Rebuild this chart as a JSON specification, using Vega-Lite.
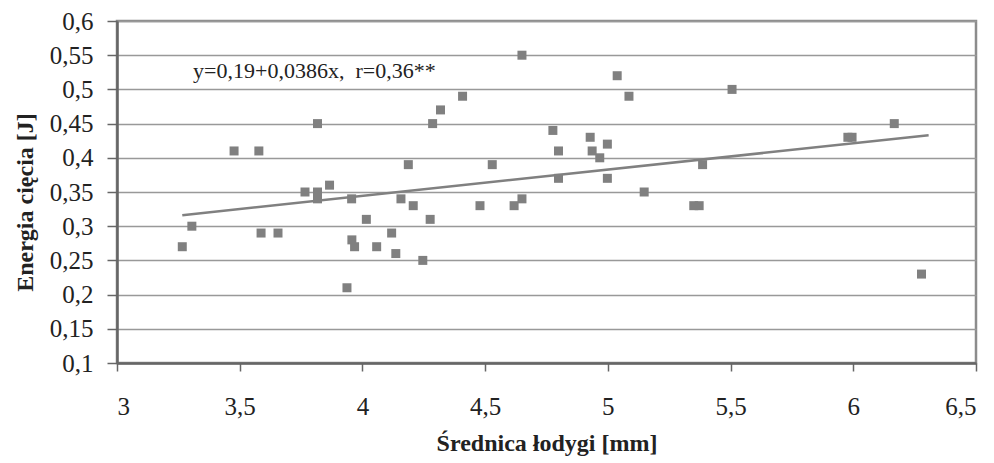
{
  "$schema": "https://vega.github.io/schema/vega-lite/v6.json",
  "autosize": {"type": "none"},
  "width": 859,
  "height": 342,
  "padding": {"left": 117, "top": 21, "right": 18, "bottom": 100},
  "background": "white",
  "config": {
    "view": {"stroke": "#8c8c8c", "strokeWidth": 2.5}
  },
  "datasets": {
    "pts": [
      {"d": 3.266, "e": 0.27}, {"d": 3.305, "e": 0.30}, {"d": 3.477, "e": 0.41}, {"d": 3.578, "e": 0.41},
      {"d": 3.587, "e": 0.29}, {"d": 3.656, "e": 0.29}, {"d": 3.766, "e": 0.35}, {"d": 3.817, "e": 0.35},
      {"d": 3.817, "e": 0.34}, {"d": 3.817, "e": 0.45}, {"d": 3.866, "e": 0.36}, {"d": 3.956, "e": 0.34},
      {"d": 3.957, "e": 0.28}, {"d": 3.968, "e": 0.27}, {"d": 3.937, "e": 0.21}, {"d": 4.016, "e": 0.31},
      {"d": 4.058, "e": 0.27}, {"d": 4.119, "e": 0.29}, {"d": 4.136, "e": 0.26}, {"d": 4.157, "e": 0.34},
      {"d": 4.187, "e": 0.39}, {"d": 4.207, "e": 0.33}, {"d": 4.246, "e": 0.25}, {"d": 4.276, "e": 0.31},
      {"d": 4.286, "e": 0.45}, {"d": 4.318, "e": 0.47}, {"d": 4.408, "e": 0.49}, {"d": 4.479, "e": 0.33},
      {"d": 4.529, "e": 0.39}, {"d": 4.618, "e": 0.33}, {"d": 4.650, "e": 0.34}, {"d": 4.650, "e": 0.55},
      {"d": 4.776, "e": 0.44}, {"d": 4.799, "e": 0.41}, {"d": 4.799, "e": 0.37}, {"d": 4.928, "e": 0.43},
      {"d": 4.936, "e": 0.41}, {"d": 4.967, "e": 0.40}, {"d": 4.998, "e": 0.42}, {"d": 4.998, "e": 0.37},
      {"d": 5.038, "e": 0.52}, {"d": 5.086, "e": 0.49}, {"d": 5.148, "e": 0.35}, {"d": 5.350, "e": 0.33},
      {"d": 5.372, "e": 0.33}, {"d": 5.386, "e": 0.39}, {"d": 5.506, "e": 0.50}, {"d": 5.978, "e": 0.43},
      {"d": 5.995, "e": 0.43}, {"d": 6.167, "e": 0.45}, {"d": 6.278, "e": 0.23}
    ],
    "fit": [{"d": 3.266, "e": 0.316}, {"d": 6.307, "e": 0.433}],
    "note": [{"d": 3.31, "e": 0.527, "t": "y=0,19+0,0386x,\u00a0\u00a0r=0,36**"}]
  },
  "encoding": {
    "x": {
      "field": "d", "type": "quantitative",
      "scale": {"domain": [3, 6.5], "nice": false, "zero": false},
      "axis": {
        "values": [3, 3.5, 4, 4.5, 5, 5.5, 6, 6.5],
        "labelExpr": "replace(format(datum.value, '.1~f'), '.', ',')",
        "grid": false,
        "labelOverlap": false,
        "labelFont": "Liberation Serif",
        "labelFontSize": 25,
        "labelColor": "#222",
        "labelPadding": 23,
        "domainColor": "#666",
        "domainWidth": 2.5,
        "tickColor": "#666",
        "tickWidth": 1.5,
        "tickSize": 8,
        "title": "Średnica łodygi [mm]",
        "titleFont": "Liberation Serif",
        "titleFontSize": 24,
        "titleFontWeight": "bold",
        "titleColor": "#222",
        "titleY": 87,
        "titleBaseline": "alphabetic"
      }
    },
    "y": {
      "field": "e", "type": "quantitative",
      "scale": {"domain": [0.1, 0.6], "nice": false, "zero": false},
      "axis": {
        "values": [0.1, 0.15, 0.2, 0.25, 0.3, 0.35, 0.4, 0.45, 0.5, 0.55, 0.6],
        "labelExpr": "replace(format(datum.value, '.2~f'), '.', ',')",
        "grid": true,
        "gridColor": "#999",
        "gridWidth": 1.5,
        "labelOverlap": false,
        "labelFont": "Liberation Serif",
        "labelFontSize": 25,
        "labelColor": "#222",
        "labelPadding": 14,
        "domainColor": "#666",
        "domainWidth": 2.5,
        "tickColor": "#666",
        "tickWidth": 1.5,
        "tickSize": 10,
        "title": "Energia cięcia [J]",
        "titleFont": "Liberation Serif",
        "titleFontSize": 24,
        "titleFontWeight": "bold",
        "titleColor": "#222",
        "titleX": -92,
        "titleY": 181,
        "titleAngle": -90,
        "titleBaseline": "middle"
      }
    }
  },
  "layer": [
    {
      "data": {"name": "pts"},
      "mark": {"type": "square", "size": 81, "color": "#808080", "opacity": 1}
    },
    {
      "data": {"name": "fit"},
      "mark": {"type": "line", "color": "#808080", "strokeWidth": 2.5}
    },
    {
      "data": {"name": "note"},
      "mark": {"type": "text", "align": "left", "baseline": "middle", "font": "Liberation Serif", "fontSize": 22, "color": "#222"},
      "encoding": {
        "text": {"field": "t"}
      }
    }
  ]
}
